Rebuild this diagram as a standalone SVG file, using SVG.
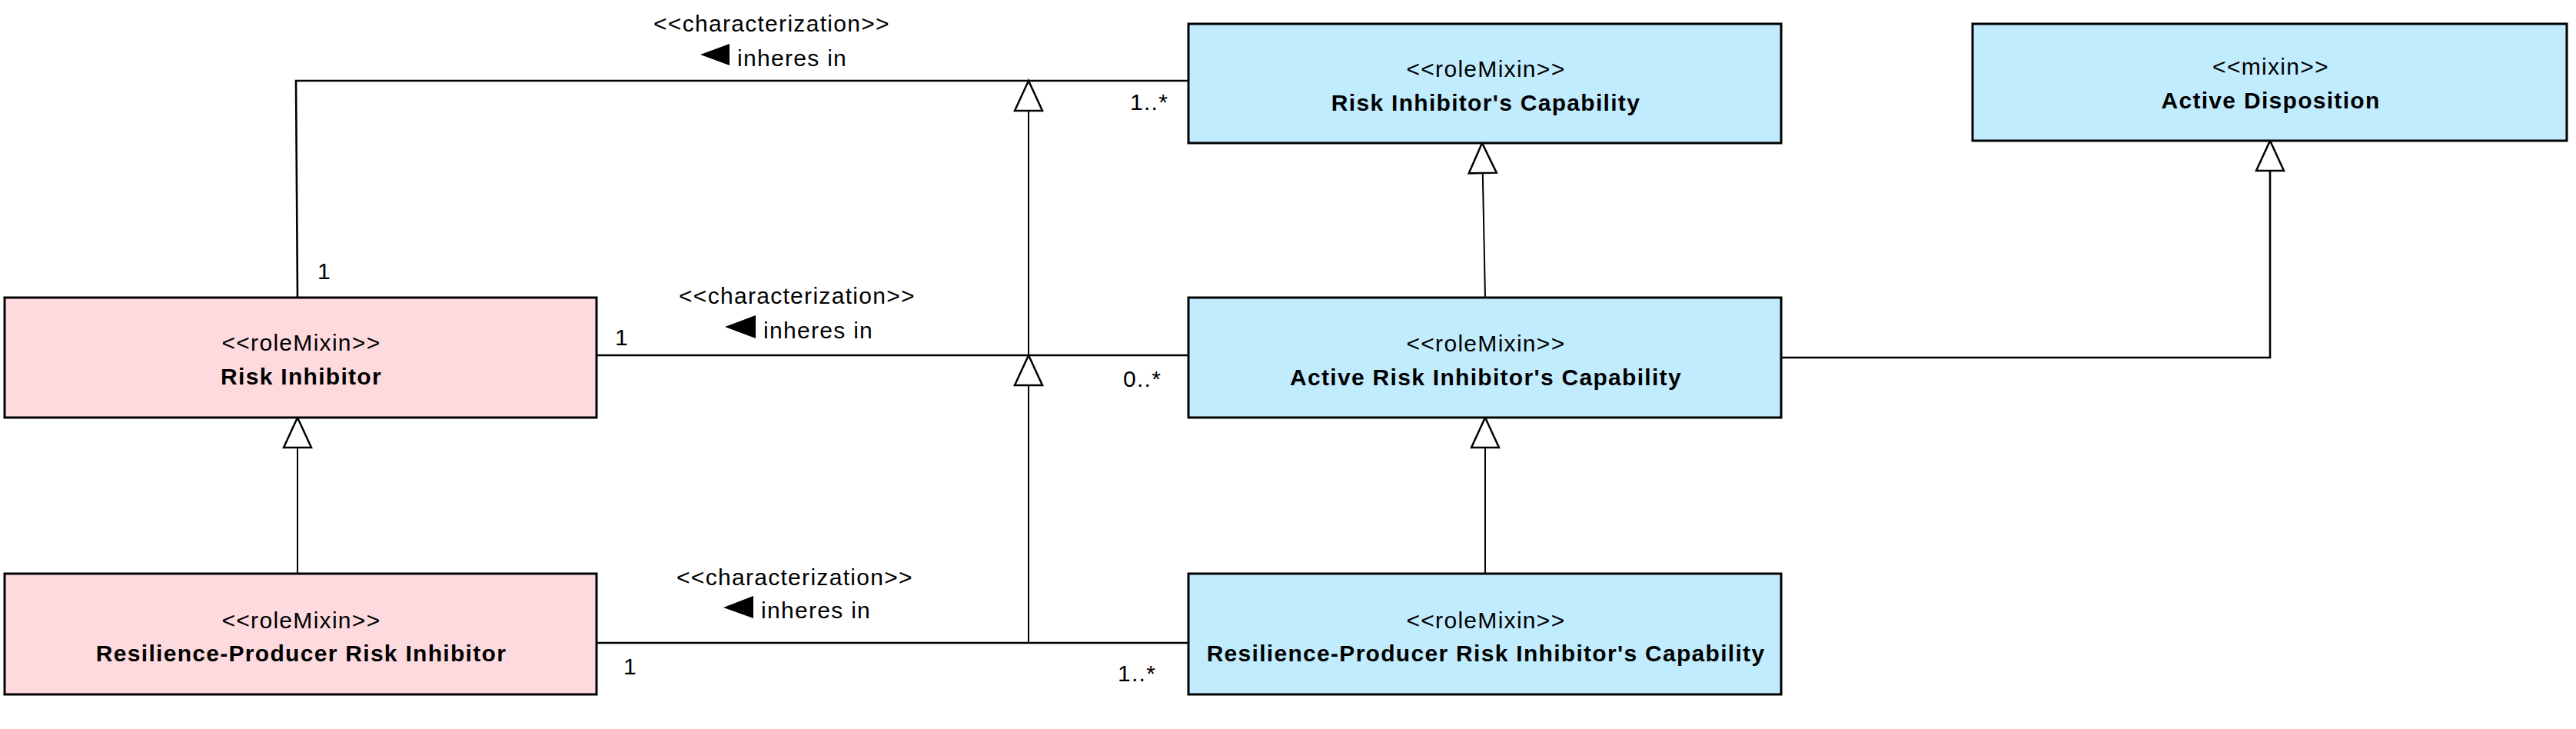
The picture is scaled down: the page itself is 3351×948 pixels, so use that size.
<svg xmlns="http://www.w3.org/2000/svg" width="3351" height="948" viewBox="0 0 3351 948">
<style>
.t{font-family:"Liberation Sans",Arial,sans-serif;font-size:30px;letter-spacing:1.3px;fill:#000}
.b{font-weight:bold}
.m{text-anchor:middle}
.pink{fill:#FDDADE;stroke:#000;stroke-width:3}
.blue{fill:#C1ECFE;stroke:#000;stroke-width:3}
.assoc{fill:none;stroke:#000;stroke-width:2.6}
.gen{fill:none;stroke:#000;stroke-width:2;marker-end:url(#gen)}
.dir{fill:#000}
</style>
<defs>
<marker id="gen" viewBox="0 0 40 38" refX="40" refY="19" markerWidth="40" markerHeight="38" markerUnits="userSpaceOnUse" orient="auto" overflow="visible">
<path d="M1,1 L40,19 L1,37 Z" fill="#fff" stroke="#000" stroke-width="2.5"/>
</marker>
</defs>
<rect width="3351" height="948" fill="#fff"/>
<g id="connectors">
<polyline class="assoc" points="387,387 385,105 1546,105"/>
<polyline class="assoc" points="776,462 1546,462"/>
<polyline class="assoc" points="776,836 1546,836"/>
<polyline class="assoc" points="2317,465 2953,465 2953,223"/>
<path class="gen" d="M2953,230 L2953,183"/>
<path class="gen" d="M1338,836 L1338,462"/>
<path class="gen" d="M1338,462 L1338,105"/>
<path class="gen" d="M387,746 L387,543"/>
<path class="gen" d="M1932,387 L1928,186"/>
<path class="gen" d="M1932,746 L1932,543"/>
<text class="t" x="850" y="41">&lt;&lt;characterization&gt;&gt;</text>
<polygon class="dir" points="911,71 949,57 949,85"/>
<text class="t" x="959" y="86">inheres in</text>
<text class="t" x="1470" y="143">1..*</text>
<text class="t" x="413" y="363">1</text>
<text class="t" x="883" y="395">&lt;&lt;characterization&gt;&gt;</text>
<polygon class="dir" points="943,425 983,410 983,440"/>
<text class="t" x="993" y="440">inheres in</text>
<text class="t" x="800" y="449">1</text>
<text class="t" x="1461" y="503">0..*</text>
<text class="t" x="880" y="761">&lt;&lt;characterization&gt;&gt;</text>
<polygon class="dir" points="941,790 980,775 980,804"/>
<text class="t" x="990" y="804">inheres in</text>
<text class="t" x="811" y="877">1</text>
<text class="t" x="1454" y="886">1..*</text>
</g>
<g id="risk-inhibitors-capability">
<rect class="blue" x="1546" y="31" width="771" height="155"/>
<text class="t m" x="1933" y="100">&lt;&lt;roleMixin&gt;&gt;</text>
<text class="t b m" x="1933" y="144">Risk Inhibitor's Capability</text>
</g>
<g id="active-disposition">
<rect class="blue" x="2566" y="31" width="773" height="152"/>
<text class="t m" x="2954" y="97">&lt;&lt;mixin&gt;&gt;</text>
<text class="t b m" x="2954" y="141">Active Disposition</text>
</g>
<g id="risk-inhibitor">
<rect class="pink" x="6" y="387" width="770" height="156"/>
<text class="t m" x="392" y="456">&lt;&lt;roleMixin&gt;&gt;</text>
<text class="t b m" x="392" y="500">Risk Inhibitor</text>
</g>
<g id="active-risk-inhibitors-capability">
<rect class="blue" x="1546" y="387" width="771" height="156"/>
<text class="t m" x="1933" y="457">&lt;&lt;roleMixin&gt;&gt;</text>
<text class="t b m" x="1933" y="501">Active Risk Inhibitor's Capability</text>
</g>
<g id="resilience-producer-risk-inhibitor">
<rect class="pink" x="6" y="746" width="770" height="157"/>
<text class="t m" x="392" y="817">&lt;&lt;roleMixin&gt;&gt;</text>
<text class="t b m" x="392" y="860">Resilience-Producer Risk Inhibitor</text>
</g>
<g id="resilience-producer-risk-inhibitors-capability">
<rect class="blue" x="1546" y="746" width="771" height="157"/>
<text class="t m" x="1933" y="817">&lt;&lt;roleMixin&gt;&gt;</text>
<text class="t b m" x="1933" y="860">Resilience-Producer Risk Inhibitor's Capability</text>
</g>
</svg>
